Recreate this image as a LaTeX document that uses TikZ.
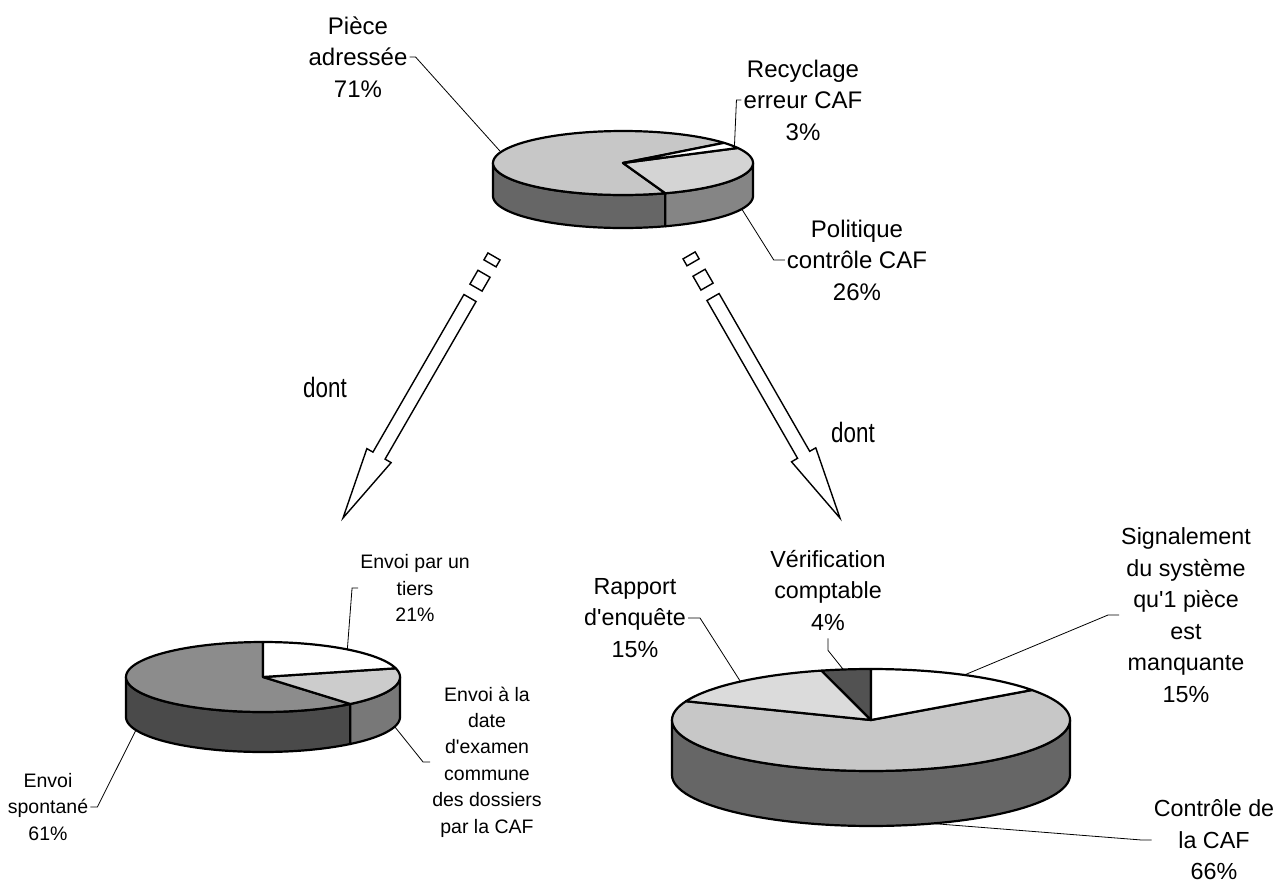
\documentclass[tikz,border=0pt]{standalone}
\usepackage{fontspec}
\setmainfont{Liberation Sans}[Ligatures=TeXOff]
\definecolor{topA}{gray}{0.78}
\definecolor{sideA}{gray}{0.40}
\definecolor{topB}{gray}{0.83}
\definecolor{sideB}{gray}{0.52}
\definecolor{topC}{gray}{0.55}
\definecolor{sideC}{gray}{0.29}
\definecolor{topD}{gray}{0.80}
\definecolor{sideD}{gray}{0.47}
\definecolor{topE}{gray}{0.78}
\definecolor{sideE}{gray}{0.40}
\definecolor{topF}{gray}{0.86}
\definecolor{topG}{gray}{0.32}
\newcommand{\PieSide}[8]{\filldraw[pieline,fill=#8] plot[domain=#6:#7,samples=60] ({#1+#3*cos(\x)},{#2-#4*sin(\x)}) -- plot[domain=#7:#6,samples=60] ({#1+#3*cos(\x)},{#2-#4*sin(\x)+#5}) -- cycle;}
\newcommand{\PieTop}[7]{\filldraw[pieline,fill=#7] (#1,#2) -- plot[domain=#5:#6,samples=90] ({#1+#3*cos(\x)},{#2-#4*sin(\x)}) -- cycle;}
\tikzset{
  pieline/.style={draw=black,line width=2.2pt,line join=round},
  leader/.style={draw=black,line width=0.8pt},
  lbl/.style={align=center,inner sep=2pt,font=\fontsize{24}{31.5}\selectfont},
  lblr/.style={align=center,inner sep=2pt,font=\fontsize{23.3}{31.5}\selectfont},
  lbls/.style={align=center,inner sep=2pt,font=\fontsize{19.5}{26.4}\selectfont},
  dontlbl/.style={anchor=base,inner sep=0pt,font=\fontsize{28}{30}\selectfont},
  blockarrow/.style={draw=black,fill=white,line width=1.4pt,line join=miter}
}
\begin{document}
\begin{tikzpicture}[x=1pt,y=-1pt]
\useasboundingbox (0,0) rectangle (1278,884);

% ---------- top pie ----------
\PieSide{623}{163}{130}{32}{33}{180}{289}{sideA}
\PieSide{623}{163}{130}{32}{33}{289}{360}{sideB}
\PieTop{623}{163}{130}{32}{39}{289}{topA}
\PieTop{623}{163}{130}{32}{-71}{28}{topB}
\PieTop{623}{163}{130}{32}{28}{39}{white}

% ---------- bottom left pie ----------
\PieSide{263}{677}{137}{35}{40}{180}{309.6}{sideC}
\PieSide{263}{677}{137}{35}{40}{309.6}{360}{sideD}
\PieTop{263}{677}{137}{35}{90}{309.6}{topC}
\PieTop{263}{677}{137}{35}{-50.4}{14.4}{topD}
\PieTop{263}{677}{137}{35}{14.4}{90}{white}

% ---------- bottom right pie ----------
\PieSide{871}{720}{199}{51}{55}{180}{360}{sideE}
\PieTop{871}{720}{199}{51}{158.4}{396}{topE}
\PieTop{871}{720}{199}{51}{104.4}{158.4}{topF}
\PieTop{871}{720}{199}{51}{90}{104.4}{topG}
\PieTop{871}{720}{199}{51}{36}{90}{white}

% ---------- leader end points ----------
\coordinate (pA) at ({623+130*cos(160)},{163-32*sin(160)});
\coordinate (pB) at ({623+130*cos(31)},{163-32*sin(31)});
\coordinate (pC) at ({623+130*cos(-24)},{163-32*sin(-24)+33});
\coordinate (pD) at ({263+137*cos(52)},{677-35*sin(52)});
\coordinate (pE) at ({263+137*cos(-16)},{677-35*sin(-16)+40});
\coordinate (pF) at ({263+137*cos(202)},{677-35*sin(202)+40});
\coordinate (pG) at ({871+199*cos(98)},{720-51*sin(98)});
\coordinate (pH) at ({871+199*cos(131)},{720-51*sin(131)});
\coordinate (pI) at ({871+199*cos(62)},{720-51*sin(62)});
\coordinate (pJ) at ({871+199*cos(-72)},{720-51*sin(-72)+55});

% ---------- labels ----------
\node[lbl] (lA) at (358,57) {Pièce\\adressée\\71\%};
\node[lbl] (lB) at (803,100) {Recyclage\\erreur CAF\\3\%};
\node[lbl] (lC) at (857,260) {Politique\\contrôle CAF\\26\%};
\node[lbls] (lD) at (415,588) {Envoi par un\\tiers\\21\%};
\node[lbls] (lE) at (487,762) {Envoi à la\\date\\d'examen\\commune\\des dossiers\\par la CAF};
\node[lbls] (lF) at (48,807) {Envoi\\spontané\\61\%};
\node[lblr] (lG) at (828,590) {Vérification\\comptable\\4\%};
\node[lblr] (lH) at (635,618) {Rapport\\d'enquête\\15\%};
\node[lblr] (lI) at (1186,615) {Signalement\\du système\\qu'1 pièce\\est\\manquante\\15\%};
\node[lblr] (lJ) at (1214,840) {Contrôle de\\la CAF\\66\%};

% ---------- leaders ----------
\draw[leader] (lA.east) -- ++(6,0) -- (pA);
\draw[leader] (lB.west) -- ++(-5,0) -- (pB);
\draw[leader] (lC.west) -- ++(-11,0) -- (pC);
\draw[leader] (lD.west) -- ++(-6,0) -- (pD);
\draw[leader] (lE.west) -- ++(-7,0) -- (pE);
\draw[leader] (lF.east) -- ++(7,0) -- (pF);
\draw[leader] (lG.south) ++(0,6) -- ++(0,12) -- (pG);
\draw[leader] (lH.east) -- ++(12,0) -- (pH);
\draw[leader] (lI.west) -- ++(-11,0) -- (pI);
\draw[leader] (lJ.west) -- ++(-10,0) -- (pJ);

% ---------- dont ----------
\node[dontlbl] (dL) at (325,397) {\scalebox{0.8}[1]{dont}};
\node[dontlbl] (dR) at (853,442) {\scalebox{0.8}[1]{dont}};

% ---------- block arrows ----------
\begin{scope}[xshift=470pt,yshift=-298pt,x={(-0.5pt,-0.866pt)},y={(0.866pt,-0.5pt)}]
  \draw[blockarrow] (0,-7) -- (182,-7) -- (182,-14) -- (254,0) -- (182,14) -- (182,7) -- (0,7) -- cycle;
  \draw[blockarrow] (-28,-7) -- (-12,-7) -- (-12,7) -- (-28,7) -- cycle;
  \draw[blockarrow] (-48,-7) -- (-40,-7) -- (-40,7) -- (-48,7) -- cycle;
\end{scope}
\begin{scope}[xshift=713pt,yshift=-297pt,x={(0.498pt,-0.867pt)},y={(0.867pt,0.498pt)}]
  \draw[blockarrow] (0,-7) -- (182,-7) -- (182,-14) -- (255,0) -- (182,14) -- (182,7) -- (0,7) -- cycle;
  \draw[blockarrow] (-28,-7) -- (-12,-7) -- (-12,7) -- (-28,7) -- cycle;
  \draw[blockarrow] (-48,-7) -- (-40,-7) -- (-40,7) -- (-48,7) -- cycle;
\end{scope}
\end{tikzpicture}
\end{document}
